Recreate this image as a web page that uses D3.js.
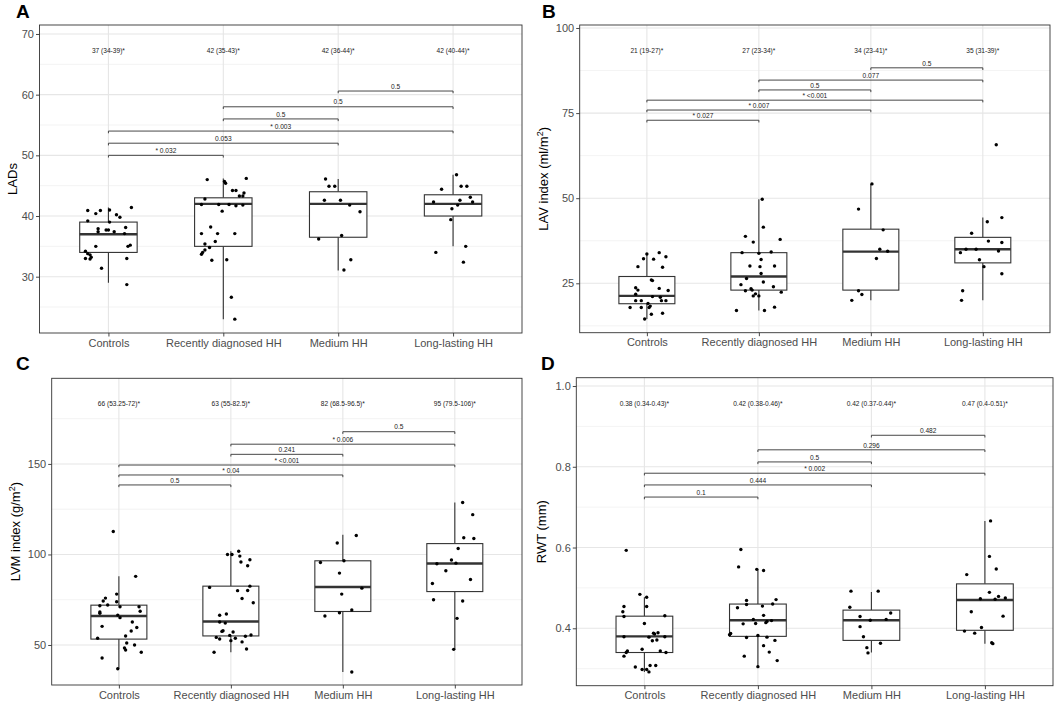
<!DOCTYPE html>
<html><head><meta charset="utf-8">
<script src="https://cdn.jsdelivr.net/npm/d3@7"></script>
<style>body{margin:0;background:#fff}svg{display:block}text{font-family:"Liberation Sans",Arial,Helvetica,sans-serif}</style>
</head><body><svg id="chart" width="1056" height="705"></svg>
<script>
const categories = ["Controls", "Recently diagnosed HH", "Medium HH", "Long-lasting HH"];

// Panel A: LADs
const ladValues = [
  [40.9,40.4,40.9,41.0,40.2,39.8,41.4,39.2,37.9,37.4,37.7,37.7,37.4,38.1,39.0,37.1,35.0,35.0,35.2,34.2,33.8,33.6,33.2,33.0,32.9,33.0,31.4,28.7],
  [46.0,45.7,45.4,46.2,44.2,44.2,43.8,43.3,43.3,42.8,41.9,41.9,41.9,41.7,41.8,40.8,38.2,37.1,37.1,37.1,35.8,35.4,34.8,34.4,34.0,33.7,32.7,32.8,26.6,23.0],
  [46.1,44.9,44.9,42.6,42.6,41.8,40.7,36.2,36.8,32.8,31.1],
  [46.8,44.4,44.9,44.9,42.3,42.6,43.1,42.3,41.8,41.2,39.4,34.0,35.0,32.4]
];
const ladJitter = [
  [-0.18,-0.11,-0.07,0.01,0.07,0.10,0.20,-0.18,-0.09,-0.09,-0.02,0.00,0.05,0.15,0.01,0.14,-0.11,0.17,0.19,-0.20,-0.18,-0.16,-0.15,-0.20,-0.16,0.16,-0.06,0.16],
  [-0.14,0.01,0.02,0.20,0.08,0.11,0.18,0.14,0.17,-0.16,-0.19,-0.04,0.05,0.11,0.17,-0.01,-0.11,-0.19,-0.05,0.10,-0.07,-0.16,-0.12,-0.16,-0.18,-0.19,-0.10,0.03,0.07,0.10],
  [-0.11,-0.08,-0.03,-0.12,0.02,0.10,0.19,-0.17,0.03,0.11,0.05],
  [0.03,-0.10,0.07,0.12,-0.17,0.06,0.15,0.17,0.04,-0.01,-0.02,-0.15,0.11,0.09]
];
// [lower whisker, Q1, median, Q3, upper whisker]
const ladBox = [[29,34,37,39,41.4],[23,35,42,43,46.2],[31,36.5,42,44,46.1],[35,40,42,43.5,46.8]];
const ladSummary = ["37 (34-39)*","42 (35-43)*","42 (36-44)*","42 (40-44)*"];
const ladBrackets = [[0,1,50,"* 0.032"],[0,2,52,"0.053"],[0,3,54,"* 0.003"],[1,2,56,"0.5"],[1,3,58,"0.5"],[2,3,60.6,"0.5"]];
const ladTicks = [30,40,50,60,70];

// Panel B: LAV index
const lavValues = [
  [33.6,34.0,32.8,32.2,32.1,29.9,29.7,26.0,25.8,23.7,23.0,23.5,22.9,21.8,21.1,20.9,19.9,19.9,19.9,19.9,19.1,17.9,17.9,17.9,18.3,15.9,16.2,14.5],
  [49.7,41.5,38.8,37.1,37.9,34.0,33.8,34.2,32.0,30.1,29.9,30.1,27.9,26.4,25.4,24.6,24.0,22.8,23.4,23.0,22.4,21.9,21.3,21.3,18.0,17.0,17.0],
  [54.2,46.8,40.7,35.0,34.4,32.3,22.8,21.7,20.0],
  [65.7,44.3,43.1,39.7,37.4,37.0,34.0,35.0,35.0,34.5,31.9,29.9,27.8,22.8,20.0]
];
const lavJitter = [
  [0.00,0.11,0.17,-0.03,0.06,-0.08,0.14,0.04,0.05,-0.10,-0.08,0.11,0.19,-0.10,0.05,0.12,-0.10,-0.05,0.13,0.17,0.01,-0.15,-0.05,0.02,0.03,0.04,0.14,-0.02],
  [0.03,0.04,-0.12,-0.05,0.19,-0.15,0.00,0.11,0.02,-0.08,0.01,0.14,0.02,-0.11,0.04,-0.16,0.13,-0.12,-0.07,-0.06,0.20,-0.03,-0.05,0.00,0.14,-0.20,0.05],
  [0.01,-0.11,0.11,0.08,0.15,0.05,-0.11,-0.08,-0.17],
  [0.12,0.17,0.04,-0.10,0.05,0.17,-0.20,-0.15,-0.06,0.14,-0.03,0.01,0.17,-0.18,-0.19]
];
const lavBox = [[14.5,19,21.3,27,33.8],[17,23,27,34,49.7],[20,23,34.3,40.9,54.2],[20,31,35,38.5,44.3]];
const lavSummary = ["21 (19-27)*","27 (23-34)*","34 (23-41)*","35 (31-39)*"];
const lavBrackets = [[0,1,72.9,"* 0.027"],[0,2,75.9,"* 0.007"],[0,3,78.8,"* <0.001"],[1,2,81.8,"0.5"],[1,3,84.7,"0.077"],[2,3,88.3,"0.5"]];
const lavTicks = [25,50,75,100];

// Panel C: LVM index
const lvmValues = [
  [112.7,87.9,78.1,75.9,74.3,73.9,72.1,71.7,71.1,71.1,68.2,67.5,68.6,66.5,65.1,60.3,62.7,59.7,57.7,55.0,53.7,51.1,50.0,48.3,47.2,46.0,42.8,36.9],
  [101.8,100.0,100.0,99.1,95.8,97.1,93.8,81.8,82.5,80.0,80.1,75.7,73.3,67.1,66.4,62.7,62.1,57.9,57.5,57.2,55.3,55.5,54.8,54.2,53.7,53.3,52.4,51.7,47.8,46.0],
  [110.5,106.3,96.5,95.6,89.7,78.1,81.4,69.3,67.8,66.0,35.1],
  [128.7,122.0,109.2,108.8,103.3,96.9,94.9,95.2,91.0,86.2,84.0,75.0,74.3,64.7,47.6]
];
const lvmJitter = [
  [-0.05,0.15,-0.02,-0.12,-0.14,-0.02,-0.10,-0.17,0.01,0.18,-0.17,-0.17,0.19,-0.01,0.01,-0.15,0.12,0.16,0.11,0.06,-0.19,0.07,0.14,0.05,0.06,0.20,-0.15,-0.01],
  [0.07,-0.03,0.01,0.08,0.09,0.17,0.15,-0.19,0.17,0.06,0.15,0.10,0.20,-0.04,-0.10,-0.10,-0.05,-0.07,-0.08,0.02,-0.01,0.18,0.13,-0.13,0.04,-0.10,0.00,0.10,0.14,-0.15],
  [0.12,-0.05,0.01,-0.20,-0.03,-0.01,0.17,0.08,-0.03,-0.16,0.08],
  [0.07,0.16,0.08,0.17,0.03,-0.03,-0.16,0.01,-0.08,0.14,-0.20,-0.19,0.07,0.02,-0.01]
];
const lvmBox = [[36.9,53.25,66,72,87.9],[46,55,63,82.5,101.8],[35.1,68.5,82,96.5,110.9],[47.6,79.5,95,106,128.7]];
const lvmSummary = ["66 (53.25-72)*","63 (55-82.5)*","82 (68.5-96.5)*","95 (79.5-106)*"];
const lvmBrackets = [[0,1,138.4,"0.5"],[0,2,143.9,"* 0.04"],[0,3,149.4,"* <0.001"],[1,2,155.3,"0.241"],[1,3,160.9,"* 0.006"],[2,3,167.8,"0.5"]];
const lvmTicks = [50,100,150];

// Panel D: RWT
const rwtValues = [
  [0.593,0.484,0.477,0.454,0.454,0.441,0.429,0.431,0.412,0.379,0.388,0.389,0.386,0.378,0.371,0.369,0.379,0.348,0.344,0.340,0.344,0.340,0.331,0.304,0.298,0.298,0.292,0.308,0.308],
  [0.595,0.552,0.546,0.543,0.469,0.471,0.451,0.459,0.455,0.460,0.432,0.422,0.411,0.412,0.414,0.417,0.419,0.384,0.387,0.382,0.377,0.378,0.370,0.357,0.341,0.331,0.320,0.305],
  [0.492,0.492,0.452,0.438,0.429,0.420,0.422,0.404,0.379,0.363,0.352,0.339],
  [0.666,0.578,0.547,0.533,0.489,0.479,0.475,0.473,0.472,0.441,0.430,0.402,0.393,0.388,0.364,0.362]
];
const rwtJitter = [
  [-0.16,-0.04,0.02,0.02,-0.18,-0.19,-0.18,0.18,0.00,-0.18,0.08,0.12,0.09,0.04,0.11,0.07,0.18,-0.02,-0.15,-0.16,0.14,0.19,-0.18,-0.08,-0.02,0.02,0.04,0.05,0.10],
  [-0.15,-0.17,-0.01,0.05,-0.10,0.16,-0.18,-0.10,0.04,0.13,0.05,-0.04,-0.13,-0.02,0.07,0.08,0.12,-0.25,-0.24,0.00,-0.10,0.08,0.15,0.05,0.10,-0.12,0.17,0.00],
  [-0.18,0.06,-0.19,0.17,-0.10,-0.01,0.13,-0.10,-0.07,0.08,-0.04,-0.03],
  [0.05,0.04,0.10,-0.16,0.04,0.12,0.18,-0.04,0.09,-0.12,0.16,-0.03,-0.18,-0.09,0.06,0.07]
];
const rwtBox = [[0.292,0.34,0.38,0.43,0.477],[0.305,0.38,0.42,0.46,0.545],[0.34,0.37,0.42,0.445,0.49],[0.362,0.395,0.47,0.51,0.666]];
const rwtSummary = ["0.38 (0.34-0.43)*","0.42 (0.38-0.46)*","0.42 (0.37-0.44)*","0.47 (0.4-0.51)*"];
const rwtBrackets = [[0,1,0.725,"0.1"],[0,2,0.755,"0.444"],[0,3,0.784,"* 0.002"],[1,2,0.812,"0.5"],[1,3,0.842,"0.296"],[2,3,0.878,"0.482"]];
const rwtTicks = [0.4,0.6,0.8,1.0];

const panels = [
  {letter:"A", title:["LADs"], values:ladValues, jitter:ladJitter, box:ladBox, summary:ladSummary, summaryY:67.3, brackets:ladBrackets, ticks:ladTicks, fmt:d3.format("d"),
   domain:[20.72,71.48], rect:{l:39.5,r:522,t:25,b:333}, letterPos:[16,18], titleX:12},
  {letter:"B", title:["LAV index (ml/m","2",")"], values:lavValues, jitter:lavJitter, box:lavBox, summary:lavSummary, summaryY:93.3, brackets:lavBrackets, ticks:lavTicks, fmt:d3.format("d"),
   domain:[10.49,100.88], rect:{l:579.7,r:1050,t:25,b:332.7}, letterPos:[542,18], titleX:543},
  {letter:"C", title:["LVM index (g/m","2",")"], values:lvmValues, jitter:lvmJitter, box:lvmBox, summary:lvmSummary, summaryY:183.1, brackets:lvmBrackets, ticks:lvmTicks, fmt:d3.format("d"),
   domain:[27.9,197.3], rect:{l:51.7,r:522,t:378.3,b:685}, letterPos:[16,370], titleX:15},
  {letter:"D", title:["RWT (mm)"], values:rwtValues, jitter:rwtJitter, box:rwtBox, summary:rwtSummary, summaryY:0.956, brackets:rwtBrackets, ticks:rwtTicks, fmt:d3.format(".1f"),
   domain:[0.2578,1.0206], rect:{l:576.3,r:1053,t:377.7,b:685.7}, letterPos:[541,370], titleX:541}
];

const svg = d3.select("#chart");
svg.append("rect").attr("width",1056).attr("height",705).attr("fill","#fff");

panels.forEach(p => {
  const R = p.rect;
  const g = svg.append("g");
  const x = d3.scalePoint().domain(categories).range([R.l, R.r]).padding(0.6);
  const y = d3.scaleLinear().domain(p.domain).range([R.b, R.t]);
  const step = x.step();

  // minor grid
  const tk = p.ticks, dt = tk[1]-tk[0];
  const minors = [];
  for (let v = tk[0]-dt/2; v <= p.domain[1]; v += dt) if (v >= p.domain[0]) minors.push(v);
  g.selectAll(".minor").data(minors).join("line")
    .attr("x1",R.l).attr("x2",R.r).attr("y1",d=>y(d)).attr("y2",d=>y(d))
    .attr("stroke","#ebebeb").attr("stroke-width",0.6);
  g.selectAll(".major").data(tk).join("line")
    .attr("x1",R.l).attr("x2",R.r).attr("y1",d=>y(d)).attr("y2",d=>y(d))
    .attr("stroke","#e6e6e6").attr("stroke-width",1.1);
  g.selectAll(".vmajor").data(categories).join("line")
    .attr("x1",d=>x(d)).attr("x2",d=>x(d)).attr("y1",R.t).attr("y2",R.b)
    .attr("stroke","#e6e6e6").attr("stroke-width",1.1);

  // boxplots
  p.box.forEach((b, i) => {
    const cx = x(categories[i]);
    const hw = 0.25*step;
    g.append("line").attr("x1",cx).attr("x2",cx).attr("y1",y(b[3])).attr("y2",y(b[4])).attr("stroke","#333").attr("stroke-width",1.1);
    g.append("line").attr("x1",cx).attr("x2",cx).attr("y1",y(b[1])).attr("y2",y(b[0])).attr("stroke","#333").attr("stroke-width",1.1);
    g.append("rect").attr("x",cx-hw).attr("width",2*hw).attr("y",y(b[3])).attr("height",y(b[1])-y(b[3]))
      .attr("fill","#fff").attr("stroke","#333").attr("stroke-width",1.1);
    g.append("line").attr("x1",cx-hw).attr("x2",cx+hw).attr("y1",y(b[2])).attr("y2",y(b[2])).attr("stroke","#333").attr("stroke-width",2.4);
  });

  // points
  p.values.forEach((vals, i) => {
    const cx = x(categories[i]);
    g.selectAll(null).data(vals.map((v,k)=>({v, j:p.jitter[i][k]}))).join("circle")
      .attr("cx",d=>cx + d.j*step).attr("cy",d=>y(d.v)).attr("r",1.7).attr("fill","#000");
  });

  // summary labels
  g.selectAll(null).data(p.summary).join("text")
    .attr("x",(d,i)=>x(categories[i])).attr("y",y(p.summaryY)).attr("dy","0.35em")
    .attr("text-anchor","middle").attr("font-size",6.6).attr("fill","#222").text(d=>d);

  // significance brackets
  p.brackets.forEach(br => {
    const x1 = x(categories[br[0]]), x2 = x(categories[br[1]]), yy = y(br[2]);
    g.append("path").attr("d",`M${x1},${yy+2.2}L${x1},${yy}L${x2},${yy}L${x2},${yy+2.2}`)
      .attr("fill","none").attr("stroke","#333").attr("stroke-width",0.9);
    g.append("text").attr("x",(x1+x2)/2).attr("y",yy-2.3).attr("text-anchor","middle")
      .attr("font-size",6.6).attr("fill","#222").text(br[3]);
  });

  // border
  g.append("rect").attr("x",R.l).attr("y",R.t).attr("width",R.r-R.l).attr("height",R.b-R.t)
    .attr("fill","none").attr("stroke","#333").attr("stroke-width",0.9);

  // axes
  const ya = g.append("g").attr("transform",`translate(${R.l},0)`)
    .call(d3.axisLeft(y).tickValues(tk).tickFormat(p.fmt).tickSize(3.5).tickPadding(2));
  const xa = g.append("g").attr("transform",`translate(0,${R.b})`)
    .call(d3.axisBottom(x).tickSize(3.5).tickPadding(2.5));
  [ya, xa].forEach(a => {
    a.select(".domain").remove();
    a.selectAll(".tick line").attr("stroke","#333").attr("stroke-width",0.9);
    a.selectAll(".tick text").attr("fill","#4d4d4d").attr("font-size",11)
      .attr("font-family","'Liberation Sans',Arial,Helvetica,sans-serif");
  });

  // y title
  const cy = (R.t+R.b)/2;
  const t = g.append("text").attr("transform",`translate(${p.titleX},${cy}) rotate(-90)`)
    .attr("text-anchor","middle").attr("dy","0.35em").attr("font-size",13).attr("fill","#000");
  if (p.title.length === 1) t.text(p.title[0]);
  else {
    t.append("tspan").text(p.title[0]);
    t.append("tspan").attr("dy",-5).attr("font-size",9).text(p.title[1]);
    t.append("tspan").attr("dy",5).text(p.title[2]);
  }

  // panel letter
  svg.append("text").attr("x",p.letterPos[0]).attr("y",p.letterPos[1])
    .attr("font-size",19).attr("font-weight","bold").attr("fill","#000").text(p.letter);
});
</script></body></html>
